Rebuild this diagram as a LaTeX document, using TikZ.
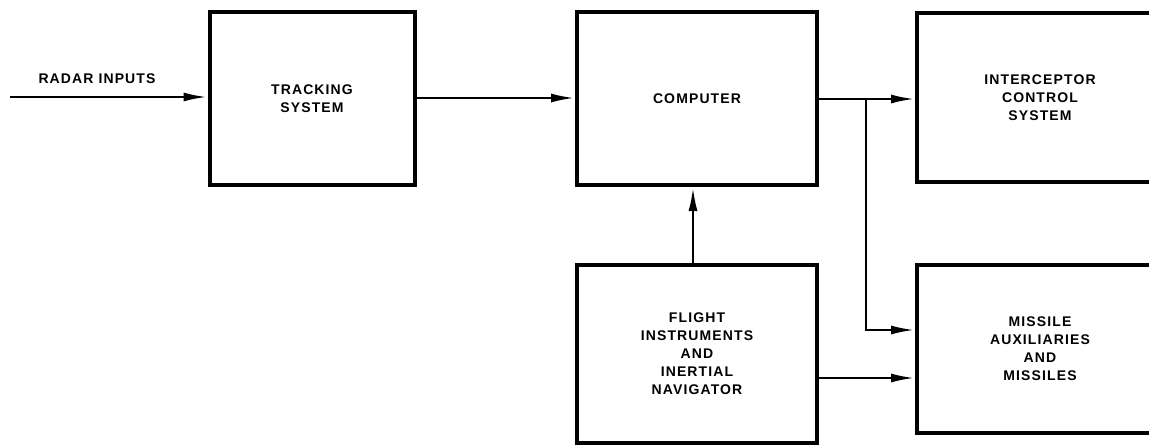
\documentclass[tikz,border=0pt]{standalone}
\usepackage{fontspec}
\setmainfont{Liberation Sans}
\newfontfamily\blockfont[LetterSpace=8]{Liberation Sans}
\usetikzlibrary{arrows.meta}

\tikzset{
  block/.style={draw, line width=4pt, align=center, font=\blockfont\bfseries\fontsize{14}{18}\selectfont},
  flow/.style={line width=2.6pt, -{Latex[length=24pt,width=9pt]}},
  tag/.style={font=\blockfont\bfseries\fontsize{14}{18}\selectfont}
}

\begin{document}
\begin{tikzpicture}[x=1pt,y=-1pt]
  \useasboundingbox (0,0) rectangle (1149,447);
  \clip (0,0) rectangle (1149,447);

  % Blocks
  \node[block, minimum width=205pt, minimum height=173pt] (track) at (312,98.5) {TRACKING\\SYSTEM};
  \node[block, minimum width=240pt, minimum height=173pt] (comp) at (697,98.5) {COMPUTER};
  \node[block, minimum width=240pt, minimum height=178pt] (flight) at (697,354) {FLIGHT\\INSTRUMENTS\\AND\\INERTIAL\\NAVIGATOR};
  \node[block, minimum width=246pt, minimum height=169pt] (icept) at (1040,97.5) {INTERCEPTOR\\CONTROL\\SYSTEM};
  \node[block, minimum width=246pt, minimum height=168pt] (miss) at (1040,349) {MISSILE\\AUXILIARIES\\AND\\MISSILES};

  % Input
  \coordinate (radar) at (10,97);
  \node[tag] (radarlbl) at (97,79) {RADAR INPUTS};
  \draw[flow] (radar) -- (radar -| track.west);

  % Connections
  \draw[flow] (track.east |- 0,98) -- (comp.west |- 0,98);
  \draw[flow] (comp.east |- 0,99) -- (icept.west |- 0,99);
  \coordinate (split) at (866,99);
  \draw[flow] (split) |- (miss.west |- 0,330);
  \draw[flow] (flight.east |- 0,378) -- (miss.west |- 0,378);
  \draw[flow] (flight.north -| 693,0) -- (comp.south -| 693,0);
\end{tikzpicture}
\end{document}
